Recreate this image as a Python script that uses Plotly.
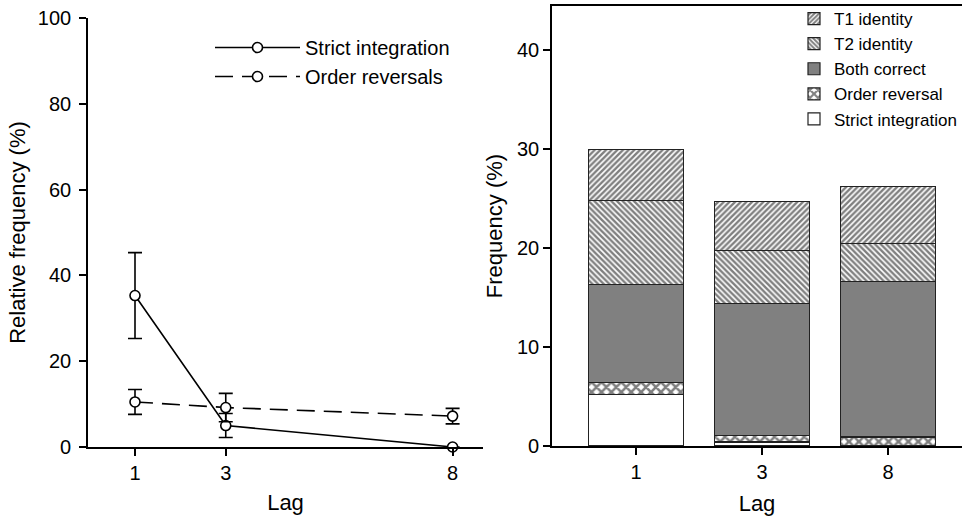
import plotly.graph_objects as go

# ---- Left panel data ----
lags = [1, 3, 8]
strict_mean = [35.3, 5.0, 0.0]
strict_err = [10.0, 2.8, 0.0]
order_mean = [10.5, 9.2, 7.2]
order_err = [2.9, 3.3, 1.8]

# ---- Right panel data (stacked %) ----
lag_labels = ["1", "3", "8"]
strict_int = [5.2, 0.4, 0.0]
order_rev = [1.2, 0.7, 0.9]
both_correct = [9.9, 13.3, 15.7]
t2_identity = [8.5, 5.3, 3.8]
t1_identity = [5.1, 5.0, 5.8]

FONT = "Liberation Sans, Arial, sans-serif"
W, H = 962, 519

fig = go.Figure()

marker_open = dict(symbol="circle", size=10, color="white", line=dict(color="black", width=1.6))

fig.add_trace(go.Scatter(
    x=lags, y=strict_mean, name="Strict integration", mode="lines+markers",
    line=dict(color="black", width=1.6), marker=marker_open,
    error_y=dict(type="data", array=strict_err, visible=True, color="black", thickness=1.6, width=7),
    xaxis="x", yaxis="y", legend="legend", cliponaxis=False))
fig.add_trace(go.Scatter(
    x=lags, y=order_mean, name="Order reversals", mode="lines+markers",
    line=dict(color="black", width=1.6, dash="18px,9px"), marker=marker_open,
    error_y=dict(type="data", array=order_err, visible=True, color="black", thickness=1.6, width=7),
    xaxis="x", yaxis="y", legend="legend", cliponaxis=False))

bar_line = dict(color="#222222", width=1.2)
def pat(shape, size, sol):
    return dict(shape=shape, fgcolor="black", bgcolor="white", size=size, solidity=sol, fillmode="overlay")

fig.add_trace(go.Bar(x=lag_labels, y=strict_int, name="Strict integration",
    marker=dict(color="white", line=bar_line), xaxis="x2", yaxis="y2", legend="legend2"))
fig.add_trace(go.Bar(x=lag_labels, y=order_rev, name="Order reversal",
    marker=dict(color="white", line=bar_line, pattern=pat("x", 7, 0.6)), xaxis="x2", yaxis="y2", legend="legend2"))
fig.add_trace(go.Bar(x=lag_labels, y=both_correct, name="Both correct",
    marker=dict(color="#808080", line=bar_line), xaxis="x2", yaxis="y2", legend="legend2"))
fig.add_trace(go.Bar(x=lag_labels, y=t2_identity, name="T2 identity",
    marker=dict(color="white", line=bar_line, pattern=pat("\\", 4, 0.6)), xaxis="x2", yaxis="y2", legend="legend2"))
fig.add_trace(go.Bar(x=lag_labels, y=t1_identity, name="T1 identity",
    marker=dict(color="white", line=bar_line, pattern=pat("/", 4, 0.6)), xaxis="x2", yaxis="y2", legend="legend2"))

axis_common = dict(showline=True, linecolor="black", linewidth=1.6, ticks="outside",
                   ticklen=7, tickwidth=1.6, tickcolor="black", showgrid=False, zeroline=False,
                   automargin=False,
                   tickfont=dict(family=FONT, size=20, color="black"))

fig.update_layout(
    width=W, height=H, margin=dict(l=0, r=0, t=0, b=0, autoexpand=False),
    paper_bgcolor="white", plot_bgcolor="white",
    barmode="stack", bargap=0.25,
    font=dict(family=FONT, color="black"),
    xaxis=dict(domain=[88 / W, 483 / W], range=[-0.036, 8.67], tickvals=lags,
               title=dict(text="Lag", font=dict(size=22), standoff=12), **axis_common),
    yaxis=dict(domain=[1 - 447 / H, 1 - 18 / H], range=[0, 100], tickvals=[0, 20, 40, 60, 80, 100],
               ticklabelstandoff=4,
               title=dict(text="Relative frequency (%)", font=dict(size=22), standoff=6), **axis_common),
    xaxis2=dict(domain=[552 / W, 1.0], range=[-0.667, 2.587], type="category", mirror=True,
                anchor="y2",
                title=dict(text="Lag", font=dict(size=22), standoff=14), **axis_common),
    yaxis2=dict(domain=[1 - 446 / H, 1 - 6 / H], range=[0, 44.4], tickvals=[0, 10, 20, 30, 40],
                anchor="x2",
                title=dict(text="Frequency (%)", font=dict(size=22), standoff=8), **axis_common),
    legend=dict(x=210 / W, y=1 - 28 / H, xanchor="left", yanchor="top", bgcolor="rgba(0,0,0,0)",
                font=dict(family=FONT, size=20), itemwidth=85, traceorder="normal"),
    legend2=dict(x=794 / W, y=1 - 1 / H, xanchor="left", yanchor="top", bgcolor="rgba(0,0,0,0)",
                 font=dict(family=FONT, size=17), traceorder="reversed", tracegroupgap=0,
                 itemwidth=30),
)

fig.write_html("out.html")
